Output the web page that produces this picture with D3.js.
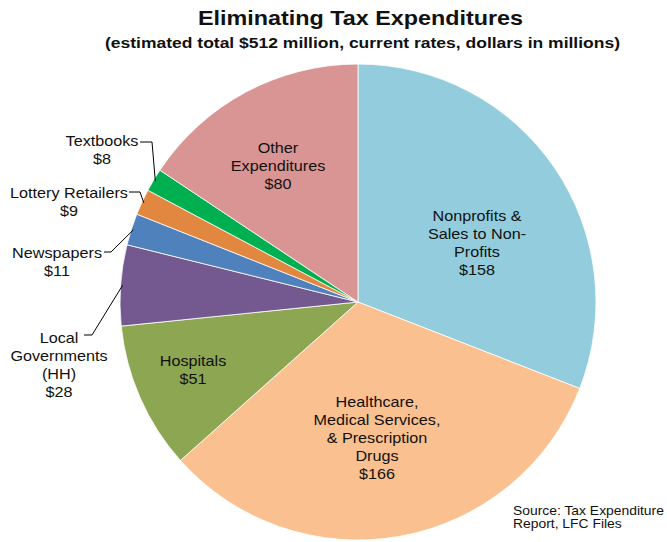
<!DOCTYPE html>
<html>
<head>
<meta charset="utf-8">
<script src="https://cdn.jsdelivr.net/npm/d3@7"></script>
<style>
  html, body { margin: 0; padding: 0; background: #fff; }
  svg { display: block; }
  text { font-family: "Liberation Sans", Arial, sans-serif; fill: #111; }
</style>
</head>
<body>
<svg id="chart" width="667" height="542"></svg>
<script>
// Tax expenditure categories, clockwise from 12 o'clock (dollars in millions)
const categories = [
  "Nonprofits & Sales to Non-Profits",
  "Healthcare, Medical Services, & Prescription Drugs",
  "Hospitals",
  "Local Governments (HH)",
  "Newspapers",
  "Lottery Retailers",
  "Textbooks",
  "Other Expenditures"
];
const values = [158, 166, 51, 28, 11, 9, 8, 80];
// Label text split into lines (the value line is appended when drawn)
const labelLines = [
  ["Nonprofits &", "Sales to Non-", "Profits"],
  ["Healthcare,", "Medical Services,", "& Prescription", "Drugs"],
  ["Hospitals"],
  ["Local", "Governments", "(HH)"],
  ["Newspapers"],
  ["Lottery Retailers"],
  ["Textbooks"],
  ["Other", "Expenditures"]
];
const colors = ["#93CDDD", "#FAC090", "#8DA651", "#73598F", "#4F81BD", "#E1873F", "#00B050", "#D99594"];

// Layout
const cx = 358, cy = 302, radius = 238;
const textStretch = 1.157;   // wide label face
const lineH = 17.8;

// Label placement relative to the pie centre; "outside" labels get a leader line
const labelLayout = [
  { dx: 119, dy: -59 },
  { dx: 19,  dy: 136 },
  { dx: -165, dy: 68 },
  { dx: -299, dy: 63, outside: true, elbow: [[-274, 33], [-266, 33]] },
  { dx: -301, dy: -40, outside: true, elbow: [[-254, -50], [-247, -50]] },
  { dx: -289, dy: -100, outside: true, elbow: [[-229, -110], [-218, -110]] },
  { dx: -256, dy: -152, outside: true, elbow: [[-218, -160], [-206, -160]] },
  { dx: -80, dy: -136 }
];

const svg = d3.select("#chart");

// Title
svg.append("text")
  .attr("x", 360.5).attr("y", 25)
  .attr("text-anchor", "middle")
  .attr("font-size", 21).attr("font-weight", "bold")
  .attr("textLength", 325).attr("lengthAdjust", "spacingAndGlyphs")
  .text("Eliminating  Tax Expenditures");
svg.append("text")
  .attr("x", 362.5).attr("y", 47.5)
  .attr("text-anchor", "middle")
  .attr("font-size", 14.5).attr("font-weight", "bold")
  .attr("textLength", 515).attr("lengthAdjust", "spacingAndGlyphs")
  .text("(estimated total $512 million,  current rates, dollars  in millions)");

const data = categories.map((c, i) => ({
  name: c, value: values[i], color: colors[i], lines: labelLines[i], layout: labelLayout[i]
}));

const pie = d3.pie().value(d => d.value).sort(null);
const arc = d3.arc().innerRadius(0).outerRadius(radius);

const g = svg.append("g").attr("transform", `translate(${cx},${cy})`);

const arcs = pie(data);

g.selectAll("path.slice")
  .data(arcs)
  .join("path")
  .attr("class", "slice")
  .attr("d", arc)
  .attr("fill", d => d.data.color)
  .attr("stroke", "#fff")
  .attr("stroke-width", 0.8);

// Leader lines for the small slices: elbow then to the slice's outer edge midpoint
g.selectAll("polyline.leader")
  .data(arcs.filter(d => d.data.layout.outside))
  .join("polyline")
  .attr("class", "leader")
  .attr("fill", "none")
  .attr("stroke", "#000")
  .attr("stroke-width", 1)
  .attr("points", d => {
    const mid = (d.startAngle + d.endAngle) / 2;
    const p = [Math.sin(mid) * (radius - 2), -Math.cos(mid) * (radius - 2)];
    return [...d.data.layout.elbow, p].map(q => q.join(",")).join(" ");
  });

// Labels: category lines plus the value line, centred on the layout point
const labels = g.selectAll("g.label")
  .data(arcs)
  .join("g")
  .attr("class", "label")
  .attr("transform", d => `translate(${d.data.layout.dx},${d.data.layout.dy}) scale(${textStretch},1)`);

labels.each(function(d) {
  const lines = [...d.data.lines, "$" + d.data.value];
  const n = lines.length;
  const t = d3.select(this).append("text")
    .attr("text-anchor", "middle")
    .attr("font-size", 14);
  lines.forEach((ln, i) => {
    t.append("tspan")
      .attr("x", 0)
      .attr("y", (i - (n - 1) / 2) * lineH + 5)
      .text(ln);
  });
});

// Source note
const src = svg.append("text")
  .attr("transform", `translate(513,0) scale(${textStretch},1)`)
  .attr("font-size", 12);
src.append("tspan").attr("x", 0).attr("y", 515).text("Source: Tax Expenditure");
src.append("tspan").attr("x", 0).attr("y", 528).text("Report, LFC Files");
</script>
</body>
</html>
